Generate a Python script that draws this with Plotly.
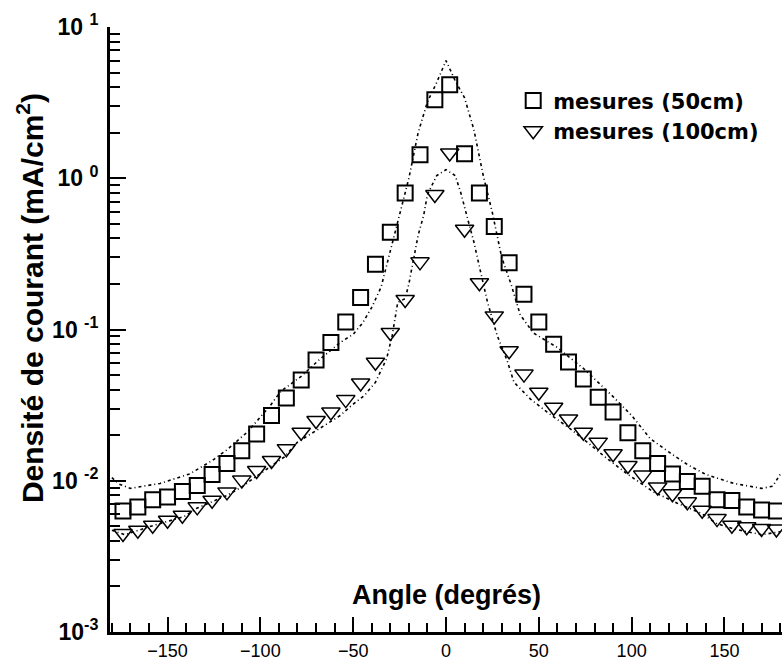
import plotly.graph_objects as go

# Measurement angles (degrees), shared by both distances
angles = [-174, -166, -158, -150, -142, -134, -126, -118, -110, -102, -94, -86,
          -78, -70, -62, -54, -46, -38, -30, -22, -14, -6, 2, 10, 18, 26, 34,
          42, 50, 58, 66, 74, 82, 90, 98, 106, 114, 122, 130, 138, 146, 154,
          162, 170, 178]

# Current density (mA/cm2) measured at 50 cm
mes_50 = [0.0063, 0.0067, 0.0075, 0.0078, 0.0085, 0.0093, 0.0110, 0.0130,
          0.0158, 0.0204, 0.0270, 0.0352, 0.0464, 0.0628, 0.082, 0.112, 0.163,
          0.27, 0.44, 0.80, 1.43, 3.3, 4.15, 1.45, 0.80, 0.48, 0.276, 0.171,
          0.112, 0.080, 0.061, 0.047, 0.0356, 0.0285, 0.0208, 0.0158, 0.0130,
          0.0111, 0.0099, 0.0092, 0.0075, 0.0074, 0.0067, 0.0064, 0.0063]

# Current density (mA/cm2) measured at 100 cm
mes_100 = [0.00448, 0.00471, 0.00508, 0.00548, 0.00592, 0.00672, 0.00743,
           0.00844, 0.0101, 0.0117, 0.0136, 0.0163, 0.0209, 0.0250, 0.0285,
           0.0344, 0.0443, 0.0607, 0.0955, 0.158, 0.28, 0.78, 1.47, 0.46,
           0.204, 0.123, 0.0723, 0.0507, 0.0385, 0.0306, 0.0256, 0.0209,
           0.0180, 0.0151, 0.0126, 0.0109, 0.0091, 0.0082, 0.00725, 0.00638,
           0.00562, 0.00508, 0.00496, 0.00484, 0.0048]

# Model curve, 50 cm
calc_50_angle = [-180, -176, -170, -154, -138, -126, -118, -107, -95, -89, -78,
                 -69, -57, -50, -45, -40, -35, -30, -25, -20, -15, -10, -5, 0,
                 5, 10, 15, 20, 25, 30, 35, 40, 47, 60, 75, 90, 100, 110, 120,
                 130, 140, 155, 170, 176, 180]
calc_50 = [0.0105, 0.0095, 0.0089, 0.0096, 0.0111, 0.0136, 0.016, 0.021,
           0.031, 0.039, 0.049, 0.062, 0.082, 0.093, 0.11, 0.14, 0.19, 0.33,
           0.59, 1.0, 2.0, 3.2, 4.3, 6.0, 4.4, 3.4, 2.1, 1.05, 0.59, 0.30,
           0.20, 0.125, 0.095, 0.076, 0.054, 0.036, 0.027, 0.019, 0.0155,
           0.0128, 0.011, 0.0096, 0.0089, 0.0092, 0.011]

# Model curve, 100 cm
calc_100_angle = [-180, -173, -159, -150, -141, -134, -118, -110, -104, -87,
                  -80, -64, -57, -51, -44, -38, -32, -29, -26, -22, -20, -18,
                  -15, -12, -10, -5, 0, 5, 8, 12, 15, 18, 20.6, 22.4, 27.6, 33,
                  36.6, 45.5, 54.5, 67, 76, 86.8, 97.6, 112, 124.6, 137.4, 146,
                  155, 170, 180]
calc_100 = [0.0047, 0.0044, 0.0050, 0.0054, 0.0058, 0.0066, 0.0080, 0.0091,
            0.0103, 0.0144, 0.018, 0.0238, 0.027, 0.0314, 0.0366, 0.0448,
            0.064, 0.091, 0.151, 0.16, 0.2, 0.27, 0.42, 0.57, 0.78, 1.04, 1.14,
            1.04, 0.8, 0.52, 0.38, 0.26, 0.184, 0.151, 0.091, 0.062, 0.0448,
            0.0347, 0.0284, 0.022, 0.018, 0.014, 0.0111, 0.0084, 0.0071,
            0.0061, 0.0052, 0.0048, 0.0044, 0.0046]

x_ticks = [-150, -100, -50, 0, 50, 100, 150]
y_ticks = [1e-3, 1e-2, 1e-1, 1, 10]
y_tick_text = ["10<sup>-3</sup>", "10 <sup>-2</sup>", "10 <sup>-1</sup>",
               "10 <sup>0</sup>", "10 <sup>1</sup>"]
y_minor = [m * d for d in (1e-3, 1e-2, 1e-1, 1) for m in range(2, 10)]

fit_line = dict(color="black", width=1.6, dash="3px,3px,1px,3px")

fig = go.Figure()
fig.add_trace(go.Scatter(x=calc_50_angle, y=calc_50, mode="lines",
                         line=fit_line, showlegend=False, hoverinfo="skip"))
fig.add_trace(go.Scatter(x=calc_100_angle, y=calc_100, mode="lines",
                         line=fit_line, showlegend=False, hoverinfo="skip"))
fig.add_trace(go.Scatter(
    x=angles, y=mes_50, mode="markers", name="mesures (50cm)",
    marker=dict(symbol="square-open", size=15, color="black",
                line=dict(width=2, color="black"))))
fig.add_trace(go.Scatter(
    x=angles, y=mes_100, mode="markers", name="mesures (100cm)",
    marker=dict(symbol="triangle-down-open", size=16, color="black",
                line=dict(width=1.5, color="black"))))

fig.update_layout(
    width=782, height=661,
    margin=dict(l=110, r=0, t=27, b=27),
    paper_bgcolor="white", plot_bgcolor="white",
    showlegend=True,
    legend=dict(x=0.600, y=0.912, xanchor="left", yanchor="top",
                bgcolor="rgba(0,0,0,0)", tracegroupgap=0,
                font=dict(family="DejaVu Sans", size=21, color="black",
                          weight="bold")),
    annotations=[
        dict(text="Angle (degrés)", x=0, xref="x", y=0.061, yref="paper",
             xanchor="center", yanchor="middle", showarrow=False,
             font=dict(family="Liberation Sans", size=27, color="black",
                       weight="bold")),
        dict(text="Densité de courant (mA/cm<sup>2</sup>)", textangle=-90,
             x=-0.119, xref="paper", y=0.552, yref="paper",
             xanchor="center", yanchor="middle", showarrow=False,
             font=dict(family="Liberation Sans", size=30, color="black",
                       weight="bold")),
    ],
)

fig.update_xaxes(
    range=[-181, 181], showgrid=False, zeroline=False,
    showline=True, linecolor="black", linewidth=3,
    ticks="inside", ticklen=15, tickwidth=2, tickcolor="black",
    tickvals=x_ticks,
    tickfont=dict(family="Liberation Sans", size=18, color="black"),
    minor=dict(ticks="inside", ticklen=9, tickwidth=1.5, tickcolor="black",
               dtick=10, showgrid=False),
)
fig.update_yaxes(
    type="log", range=[-3, 1], showgrid=False, zeroline=False,
    showline=True, linecolor="black", linewidth=3,
    ticks="inside", ticklen=16, tickwidth=2, tickcolor="black",
    tickvals=y_ticks, ticktext=y_tick_text, ticklabelstandoff=4,
    tickfont=dict(family="Liberation Sans", size=23, color="black",
                  weight="bold"),
    minor=dict(ticks="inside", ticklen=10, tickwidth=1.5, tickcolor="black",
               tickmode="array", tickvals=y_minor, showgrid=False),
)

fig.write_html("out.html")
